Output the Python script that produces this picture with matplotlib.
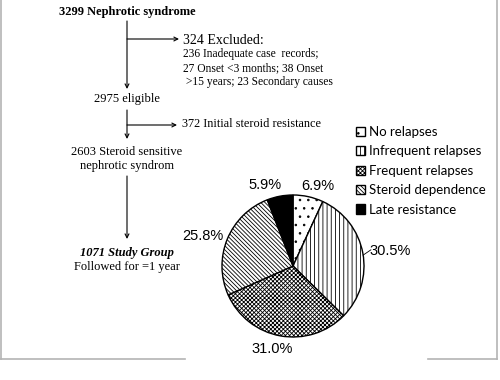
import matplotlib.pyplot as plt
import numpy as np

# pie data
groups = ['No relapses', 'Infrequent relapses', 'Frequent relapses',
          'Steroid dependence', 'Late resistance']
shares = [6.9, 30.5, 31.0, 25.8, 5.9]
hatches = ['..', '||||', 'xxxxxxxx', '\\\\\\\\\\\\\\\\', '']
fills = ['white', 'white', 'white', 'white', 'black']
label_dist = [1.18, 1.38, 1.2, 1.34, 1.2]
label_turn = [-5, -1.5, -4, 4, 8.5]

# flowchart text
top_box = '3299 Nephrotic syndrome'
excluded_head = '324 Excluded:'
excluded_lines = ['236 Inadequate case  records;', '27 Onset <3 months; 38 Onset',
                  ' >15 years; 23 Secondary causes']
eligible = '2975 eligible'
resistance = '372 Initial steroid resistance'
sensitive = ['2603 Steroid sensitive', 'nephrotic syndrom']
study = '1071 Study Group'
followed = 'Followed for =1 year'

plt.rcParams['hatch.linewidth'] = 0.6

W, H = 500, 380
fig = plt.figure(figsize=(5, 3.8), dpi=100)
ax = fig.add_axes([0, 0, 1, 1])
ax.set_xlim(0, W)
ax.set_ylim(0, H)
ax.axis('off')


def py(y):
    return H - y


serif = 'Liberation Serif'
fx = 127


def arrow(x0, y0, x1, y1):
    ax.annotate('', xy=(x1, py(y1)), xytext=(x0, py(y0)),
                arrowprops=dict(arrowstyle='->', lw=0.8, color='black',
                                shrinkA=0, shrinkB=0, mutation_scale=7))


ax.text(fx, py(12), top_box, ha='center', va='center', family=serif,
        fontsize=9, fontweight='bold')
arrow(fx, 21, fx, 89)
arrow(fx, 39, 179, 39)
ax.text(183, py(40), excluded_head, ha='left', va='center', family=serif, fontsize=10)
for i, line in enumerate(excluded_lines):
    ax.text(183, py(54 + 14 * i), line, ha='left', va='center', family=serif, fontsize=8.3)

ax.text(fx, py(99), eligible, ha='center', va='center', family=serif, fontsize=9)
arrow(fx, 110, fx, 139)
arrow(fx, 125, 177, 125)
ax.text(182, py(124), resistance, ha='left', va='center', family=serif, fontsize=8.8)

for i, line in enumerate(sensitive):
    ax.text(fx, py(152 + 14 * i), line, ha='center', va='center', family=serif, fontsize=9)
arrow(fx, 176, fx, 239)
ax.text(fx, py(253), study, ha='center', va='center', family=serif, fontsize=9,
        fontweight='bold', style='italic')
ax.text(fx, py(267), followed, ha='center', va='center', family=serif, fontsize=9)

# pie
cx, cy, r = 293, py(266), 71
wedges, _ = ax.pie(shares, startangle=90, counterclock=False, center=(cx, cy),
                   radius=r, colors=fills,
                   wedgeprops=dict(edgecolor='black', linewidth=1.0))
for w, h in zip(wedges, hatches):
    w.set_hatch(h)
ax.set_xlim(0, W)
ax.set_ylim(0, H)
ax.set_aspect('auto')

for w, v, d, t in zip(wedges, shares, label_dist, label_turn):
    ang = np.deg2rad((w.theta1 + w.theta2) / 2 + t)
    ax.text(cx + d * r * np.cos(ang), cy + d * r * np.sin(ang), f'{v:.1f}%',
            ha='center', va='center', family='Liberation Sans', fontsize=10.5)
    if v == 30.5:
        ax.plot([cx + 1.0 * r * np.cos(ang), cx + 1.12 * r * np.cos(ang + 0.05)],
                [cy + 1.0 * r * np.sin(ang), cy + 1.12 * r * np.sin(ang + 0.05)],
                color='black', lw=0.6)

ax.legend(wedges, groups, loc='upper left', bbox_to_anchor=(356 / W, 1 - 126 / H),
          frameon=False, prop=dict(family='Lato', size=9.5), handlelength=0.7,
          handleheight=0.7, handletextpad=0.3, labelspacing=0.56,
          borderaxespad=0, borderpad=0)

# light frame
gray = '#b4b4b4'
ax.plot([1, 1], [py(0), py(359)], color=gray, lw=1.2)
ax.plot([497, 497], [py(0), py(359)], color=gray, lw=1.2)
ax.plot([1, 185], [py(359), py(359)], color=gray, lw=1.2)
ax.plot([428, 497], [py(359), py(359)], color=gray, lw=1.2)

plt.savefig('out.png', dpi=100)
